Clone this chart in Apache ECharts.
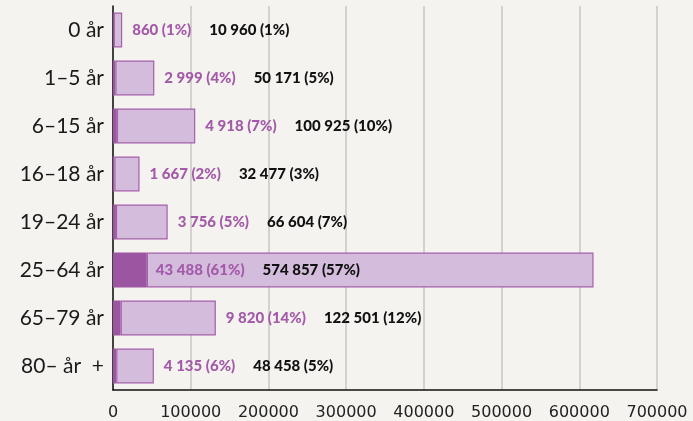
<!DOCTYPE html>
<html><head><meta charset="utf-8">
<script src="https://cdn.jsdelivr.net/npm/echarts@6/dist/echarts.min.js"></script>
<style>html,body{margin:0;padding:0;background:#f4f3ef;}#c{width:693px;height:421px;}</style>
</head><body><div id="c"></div>
<script>
const categories = ['0 år', '1–5 år', '6–15 år', '16–18 år', '19–24 år', '25–64 år', '65–79 år', '80– år  +'];
const partValues = [860, 2999, 4918, 1667, 3756, 43488, 9820, 4135];
const partPct = [1, 4, 7, 2, 5, 61, 14, 6];
const totalValues = [10960, 50171, 100925, 32477, 66604, 574857, 122501, 48458];
const totalPct = [1, 5, 10, 3, 7, 57, 12, 5];
const xTicks = [0, 100000, 200000, 300000, 400000, 500000, 600000, 700000];

function fmt(n){ return String(n).replace(/\B(?=(\d{3})+(?!\d))/g, ' '); }

const chart = echarts.init(document.getElementById('c'), null, {renderer:'canvas'});
const lightData = totalValues.map((v, i) => {
  const item = { value: v };
  if (v > 300000) item.label = { position: 'insideLeft', distance: 9 };
  return item;
});
chart.setOption({
  backgroundColor: '#f4f3ef',
  animation: false,
  grid: { left: 113, right: 36, top: 6, bottom: 29 },
  xAxis: {
    type: 'value', min: xTicks[0], max: xTicks[xTicks.length-1], interval: 100000,
    axisLine: { show: true, lineStyle: { color: '#111', width: 1.5 } },
    axisTick: { show: false },
    splitLine: { show: true, lineStyle: { color: '#c9c7c4', width: 1.5 } },
    axisLabel: { color: '#222', fontFamily: 'DejaVu Sans', fontSize: 16, margin: 15, formatter: v => String(v) }
  },
  yAxis: {
    type: 'category', inverse: true, data: categories,
    axisLine: { show: true, lineStyle: { color: '#111', width: 1.5 } },
    axisTick: { show: false },
    axisLabel: { color: '#1a1a1a', fontFamily: 'Lato', fontSize: 21, margin: 9 }
  },
  series: [
    {
      type: 'bar', stack: 's', data: partValues, barWidth: 35,
      itemStyle: { color: '#9c55a0' }
    },
    {
      type: 'bar', stack: 's', data: lightData, barWidth: 35,
      itemStyle: { color: '#d4bcdc', borderColor: '#a55fac', borderWidth: 1.2 },
      label: {
        show: true, position: 'right', distance: 10,
        formatter: p => '{p|' + fmt(partValues[p.dataIndex]) + ' (' + partPct[p.dataIndex] + '%)}{b|' + fmt(totalValues[p.dataIndex]) + ' (' + totalPct[p.dataIndex] + '%)}',
        rich: {
          p: { color: '#a35aa8', fontFamily: 'Lato', fontWeight: 900, fontSize: 15 },
          b: { color: '#111', fontFamily: 'Lato', fontWeight: 900, fontSize: 15, padding: [0, 0, 0, 18] }
        }
      }
    }
  ]
});
</script></body></html>
